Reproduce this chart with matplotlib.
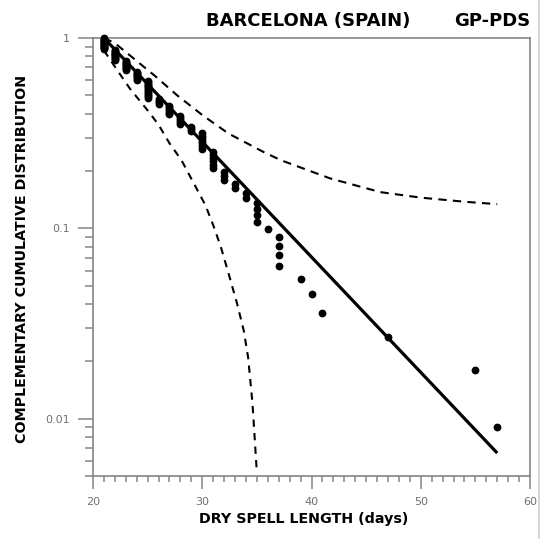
import matplotlib
matplotlib.use("Agg")
import matplotlib.pyplot as plt
import numpy as np
from matplotlib.ticker import LogLocator, MultipleLocator, NullFormatter, FixedLocator, FixedFormatter
from matplotlib.lines import Line2D

# dry spell lengths (days) and how many spells of each length
spell_days = [21, 22, 23, 24, 25, 26, 27, 28, 29, 30, 31, 32, 33, 34, 35,
              36, 37, 39, 40, 41, 47, 55, 57]
spell_count = [15, 12, 10, 8, 13, 4, 6, 5, 3, 7, 6, 3, 2, 2, 4,
               1, 4, 1, 1, 1, 1, 1, 1]

# fitted GP-PDS line (straight on the log axis)
fit_x = [21, 57]
fit_y = [1.0, 0.0066]

# confidence band
upper_x = [21.0, 22.0, 23.85, 25.7, 27.7, 30.1, 32.4, 35.6, 37.2, 41.7, 46.3, 50, 54, 57]
upper_y = [1.0, 0.94, 0.77, 0.63, 0.50, 0.39, 0.315, 0.252, 0.228, 0.183, 0.155, 0.145, 0.138, 0.134]
lower_x = [21.0, 22.2, 23.4, 25.1, 26.0, 27.0, 28.1, 29.4, 30.3, 31.0, 31.7, 32.6,
           33.2, 33.8, 34.2, 34.6, 35.0]
lower_y = [0.86, 0.68, 0.54, 0.41, 0.35, 0.28, 0.228, 0.165, 0.132, 0.104, 0.080, 0.053,
           0.040, 0.029, 0.021, 0.012, 0.0052]

ytick_vals = [0.01, 0.1, 1]
ytick_text = ["0.01", "0.1", "1"]
xtick_vals = [20, 30, 40, 50, 60]

# empirical complementary cumulative distribution
n = sum(spell_count)
px, py = [], []
left = n
for d, c in zip(spell_days, spell_count):
    for k in range(c):
        px.append(d)
        py.append((left - k) / n)
    left -= c

fig = plt.figure(figsize=(5.43, 5.39), dpi=100)
ax = fig.add_axes([93/543, 63/539, 437/543, 438/539])

ax.plot(upper_x, upper_y, color="black", lw=1.5, dashes=(4, 3))
ax.plot(lower_x, lower_y, color="black", lw=1.5, dashes=(3.5, 3))
ax.plot(fit_x, fit_y, color="black", lw=2.3, solid_capstyle="butt")
ax.plot(px, py, "o", color="black", ms=4.6, clip_on=False, zorder=5)

ax.set_yscale("log")
ax.set_xlim(20, 60)
ax.set_ylim(0.005, 1)

ax.xaxis.set_major_locator(FixedLocator(xtick_vals))
ax.xaxis.set_minor_locator(MultipleLocator(1))
ax.yaxis.set_major_locator(FixedLocator(ytick_vals))
ax.yaxis.set_major_formatter(FixedFormatter(ytick_text))
ax.yaxis.set_minor_locator(LogLocator(base=10, subs=np.arange(2, 10)))
ax.yaxis.set_minor_formatter(NullFormatter())

grey = "#858585"
for s in ax.spines.values():
    s.set_color(grey)
    s.set_linewidth(1.2)

ax.tick_params(axis="both", which="both", direction="out", color=grey, width=1.1,
               labelcolor="#707070", labelsize=8)
ax.tick_params(axis="x", which="major", length=9, pad=6)
ax.tick_params(axis="x", which="minor", length=4.5)
ax.tick_params(axis="y", which="major", length=11, pad=6)
ax.tick_params(axis="y", which="minor", length=6)

ax.set_xlabel("DRY SPELL LENGTH (days)", fontsize=10.3, fontweight="bold",
              family="DejaVu Sans")
ax.xaxis.set_label_coords((304 - 93) / 437, (476 - 519) / 438)
ax.xaxis.label.set_va("center")
ax.set_ylabel("COMPLEMENTARY CUMULATIVE DISTRIBUTION", fontsize=10.3,
              fontweight="bold", family="DejaVu Sans")
ax.yaxis.set_label_coords((22.5 - 93) / 437, 0.495)
ax.yaxis.label.set_va("center")

fig.text(410/543, 1 - 21/539, "BARCELONA (SPAIN)", ha="right", va="center",
         fontsize=13, fontweight="bold", family="DejaVu Sans")
fig.text(530/543, 1 - 21/539, "GP-PDS", ha="right", va="center",
         fontsize=13, fontweight="bold", family="DejaVu Sans")

# thin frame line at the right edge of the picture
fig.add_artist(Line2D([539/543, 539/543], [0, 1], color="#d0d0d0", lw=1.2))

fig.savefig("out.png", dpi=100)
